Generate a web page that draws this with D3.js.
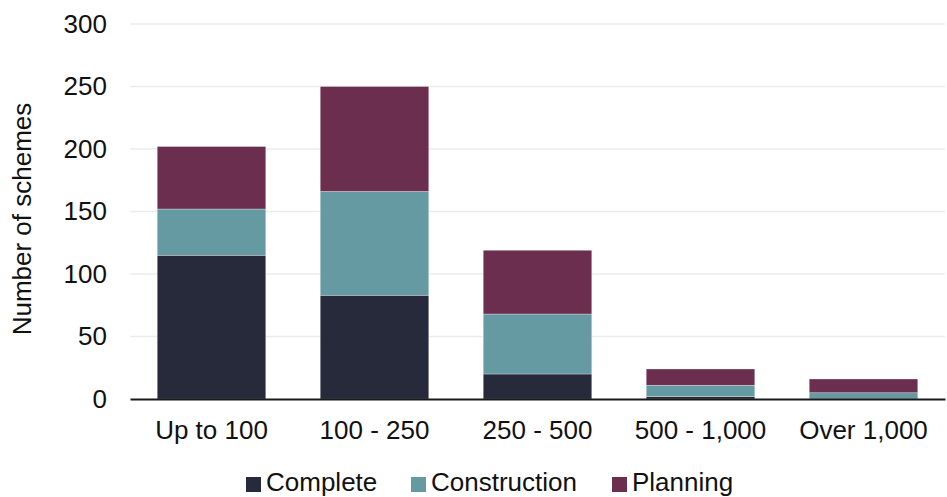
<!DOCTYPE html>
<html>
<head>
<meta charset="utf-8">
<script src="https://cdn.jsdelivr.net/npm/d3@7"></script>
<style>
  body { margin: 0; background: #fff; }
  svg { font-family: "Liberation Sans", Arial, sans-serif; }
</style>
</head>
<body>
<div id="root"></div>
<script>
// data
var categories = ["Up to 100", "100 - 250", "250 - 500", "500 - 1,000", "Over 1,000"];
var seriesNames = ["Complete", "Construction", "Planning"];
var complete = [115, 83, 20, 2, 0];
var construction = [37, 83, 48, 9, 5];
var planning = [50, 84, 51, 13, 11];
var yTicks = [0, 50, 100, 150, 200, 250, 300];

var colors = { Complete: "#262a3b", Construction: "#659aa2", Planning: "#6b2e4f" };

var width = 947, height = 497;

// build rows for the stack
var rows = categories.map(function (c, i) {
    return { cat: c, Complete: complete[i], Construction: construction[i], Planning: planning[i] };
});

var svg = d3.select("#root")
    .append("svg")
    .attr("width", width)
    .attr("height", height);

var x = d3.scaleBand()
    .domain(categories)
    .range([130, 945])
    .paddingInner(0.334)
    .paddingOuter(0.167);

var y = d3.scaleLinear()
    .domain([0, 300])
    .range([399, 24]);

// gridlines
svg.append("g")
    .selectAll("line")
    .data(yTicks.slice(1))
    .enter().append("line")
    .attr("x1", 130)
    .attr("x2", 945)
    .attr("y1", function (d) { return y(d); })
    .attr("y2", function (d) { return y(d); })
    .attr("stroke", "#ececec")
    .attr("stroke-width", 1.5);

// Y axis labels
var yAxis = svg.append("g")
    .attr("transform", "translate(130,0)")
    .call(d3.axisLeft(y).tickValues(yTicks).tickSize(0).tickPadding(23));
yAxis.select(".domain").remove();
yAxis.selectAll("text")
    .attr("font-size", 26)
    .attr("font-family", "Liberation Sans, Arial, sans-serif")
    .attr("fill", "#111");

// stacked bars
var stack = d3.stack().keys(seriesNames)(rows);

svg.append("g")
    .selectAll("g")
    .data(stack)
    .enter().append("g")
    .attr("fill", function (d) { return colors[d.key]; })
    .selectAll("rect")
    .data(function (d) { return d; })
    .enter().append("rect")
    .attr("x", function (d) { return x(d.data.cat); })
    .attr("width", x.bandwidth())
    .attr("y", function (d) { return y(d[1]); })
    .attr("height", function (d) { return y(d[0]) - y(d[1]); })
    .attr("stroke", "#fff")
    .attr("stroke-opacity", 0.5)
    .attr("stroke-width", 0.6);

// X axis
var xAxis = svg.append("g")
    .attr("transform", "translate(0,399)")
    .call(d3.axisBottom(x).tickSize(0).tickPadding(22));
xAxis.select(".domain")
    .attr("stroke", "#1a1a1a")
    .attr("stroke-width", 2);
xAxis.selectAll("text")
    .attr("font-size", 26)
    .attr("font-family", "Liberation Sans, Arial, sans-serif")
    .attr("fill", "#111");

// y axis title
svg.append("text")
    .attr("transform", "translate(31,219) rotate(-90)")
    .attr("text-anchor", "middle")
    .attr("font-size", 26)
    .attr("fill", "#111")
    .text("Number of schemes");

// legend
var legendX = [246, 411, 612];
var legend = svg.append("g")
    .selectAll("g")
    .data(seriesNames)
    .enter().append("g")
    .attr("transform", function (d, i) { return "translate(" + legendX[i] + ",477)"; });

legend.append("rect")
    .attr("width", 15)
    .attr("height", 15)
    .attr("fill", function (d) { return colors[d]; });

legend.append("text")
    .attr("x", 20)
    .attr("y", 14)
    .attr("font-size", 26)
    .attr("fill", "#111")
    .text(function (d) { return d; });
</script>
</body>
</html>
